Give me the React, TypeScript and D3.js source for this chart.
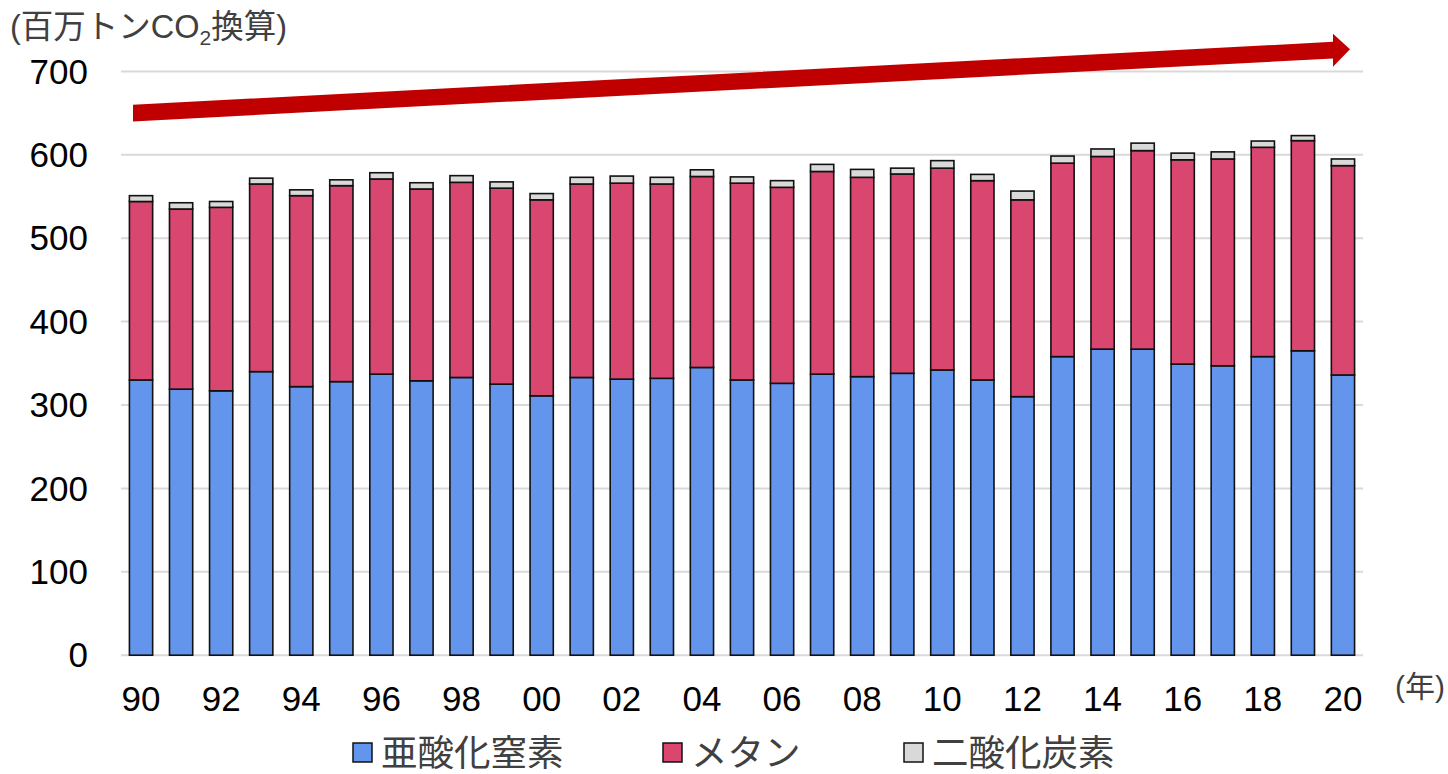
import React, { useEffect, useRef } from 'react';
import * as d3 from 'd3';

// 1990 - 2020
const years = d3.range(1990, 2021).map(y => String(y));
const n2o = [330, 319, 317, 340, 322, 328, 337, 329, 333, 325, 311, 333, 331, 332, 345, 330, 326, 337, 334, 338, 342, 330, 310, 358, 367, 367, 349, 347, 358, 365, 336];
const methane = [214, 216, 220, 225, 229, 235, 234, 230, 234, 235, 235, 232, 235, 233, 229, 236, 235, 243, 239, 239, 242, 239, 236, 232, 231, 238, 245, 248, 251, 252, 251];
const co2 = [7, 7.5, 7, 7, 7, 7, 7.5, 7.5, 8, 7.5, 7.5, 8, 8.5, 8, 8, 7.5, 8, 8.5, 9.5, 7, 9, 7.5, 10.5, 8.5, 9, 9, 8, 8.5, 7.5, 6, 8];
const seriesNames = ['亜酸化窒素', 'メタン', '二酸化炭素'];
const seriesColors = ['#6495ED', '#D94670', '#D9D9D9'];
const yTicks = [0, 100, 200, 300, 400, 500, 600, 700];
const xTickYears = years.filter((_, i) => i % 2 === 0);

const App = () => {
    const ref = useRef<SVGSVGElement>(null);

    useEffect(() => {
        const svg = d3.select(ref.current);
        svg.selectAll("*").remove();

        const left = 121, right = 1363, top = 71.4, bottom = 655.2;
        const font = '"Liberation Sans", Arial, "Noto Sans CJK JP", sans-serif';

        const x = d3.scaleBand()
            .domain(years)
            .range([left, right])
            .paddingInner(0.42)
            .paddingOuter(0.21);

        const y = d3.scaleLinear()
            .domain([0, 700])
            .range([bottom, top]);

        // gridlines
        svg.append("g")
            .selectAll("line")
            .data(yTicks)
            .enter()
            .append("line")
            .attr("x1", left)
            .attr("x2", right)
            .attr("y1", d => y(d))
            .attr("y2", d => y(d))
            .attr("stroke", "#D9D9D9")
            .attr("stroke-width", 2);

        // y tick labels
        svg.append("g")
            .selectAll("text")
            .data(yTicks)
            .enter()
            .append("text")
            .attr("x", 88)
            .attr("y", d => y(d))
            .attr("dy", "0.35em")
            .attr("text-anchor", "end")
            .attr("font-family", font)
            .attr("font-size", 35)
            .attr("fill", "#000")
            .text(d => d);

        // x tick labels
        svg.append("g")
            .selectAll("text")
            .data(xTickYears)
            .enter()
            .append("text")
            .attr("x", d => (x(d) as number) + x.bandwidth() / 2)
            .attr("y", 699)
            .attr("dy", "0.35em")
            .attr("text-anchor", "middle")
            .attr("font-family", font)
            .attr("font-size", 35)
            .attr("fill", "#000")
            .text(d => d.slice(2));

        svg.append("text")
            .attr("x", 1420)
            .attr("y", 686)
            .attr("dy", "0.35em")
            .attr("text-anchor", "middle")
            .attr("font-family", font)
            .attr("font-size", 30)
            .attr("fill", "#404040")
            .text("(年)");

        // stacked bars
        const table = years.map((yr, i) => ({ year: yr, s0: n2o[i], s1: methane[i], s2: co2[i] }));
        const stack = d3.stack<any>().keys(['s0', 's1', 's2'])(table);

        svg.append("g")
            .selectAll("g")
            .data(stack)
            .enter()
            .append("g")
            .attr("fill", (_, i) => seriesColors[i])
            .selectAll("rect")
            .data(d => d)
            .enter()
            .append("rect")
            .attr("x", d => x(d.data.year) as number)
            .attr("width", x.bandwidth())
            .attr("y", d => y(d[1]))
            .attr("height", d => y(d[0]) - y(d[1]))
            .attr("stroke", "#111")
            .attr("stroke-width", 1.6);

        // trend arrow (from ~650 to ~725 on value axis)
        const ax0 = 133, ax1 = 1333, tip = 1350;
        const ay0 = y(650), ay1 = y(725.5);
        const half = 8.3, headHalf = 16.5;
        const slope = (ay1 - ay0) / (ax1 - ax0);
        const tipY = ay1 + slope * (tip - ax1);
        const arrowPts: [number, number][] = [
            [ax0, ay0 - half],
            [ax1, ay1 - half],
            [ax1, ay1 - headHalf],
            [tip, tipY],
            [ax1, ay1 + headHalf],
            [ax1, ay1 + half],
            [ax0, ay0 + half],
        ];
        svg.append("path")
            .attr("d", d3.line()(arrowPts) + "Z")
            .attr("fill", "#C00000");

        // unit label
        const unit = svg.append("text")
            .attr("x", 10)
            .attr("y", 38)
            .attr("font-family", font)
            .attr("font-size", 32.5)
            .attr("fill", "#404040");
        unit.append("tspan").text("(百万トンCO");
        unit.append("tspan").attr("font-size", 21).attr("dy", 7).text("2");
        unit.append("tspan").attr("dy", -7).text("換算)");

        // legend
        const legendX = [353, 663, 904];
        const lg = svg.append("g")
            .selectAll("g")
            .data(seriesNames)
            .enter()
            .append("g");
        lg.append("rect")
            .attr("x", (_, i) => legendX[i])
            .attr("y", 743)
            .attr("width", 19)
            .attr("height", 19)
            .attr("fill", (_, i) => seriesColors[i])
            .attr("stroke", "#111")
            .attr("stroke-width", 1.5);
        lg.append("text")
            .attr("x", (_, i) => legendX[i] + 28)
            .attr("y", 753)
            .attr("dy", "0.36em")
            .attr("font-family", font)
            .attr("font-size", 36.5)
            .attr("fill", "#404040")
            .text(d => d);
    }, []);

    return (
        <svg ref={ref} width="1448" height="774"
            style={{ position: 'absolute', left: 0, top: 0, background: '#fff' }}></svg>
    );
};

export default App;
